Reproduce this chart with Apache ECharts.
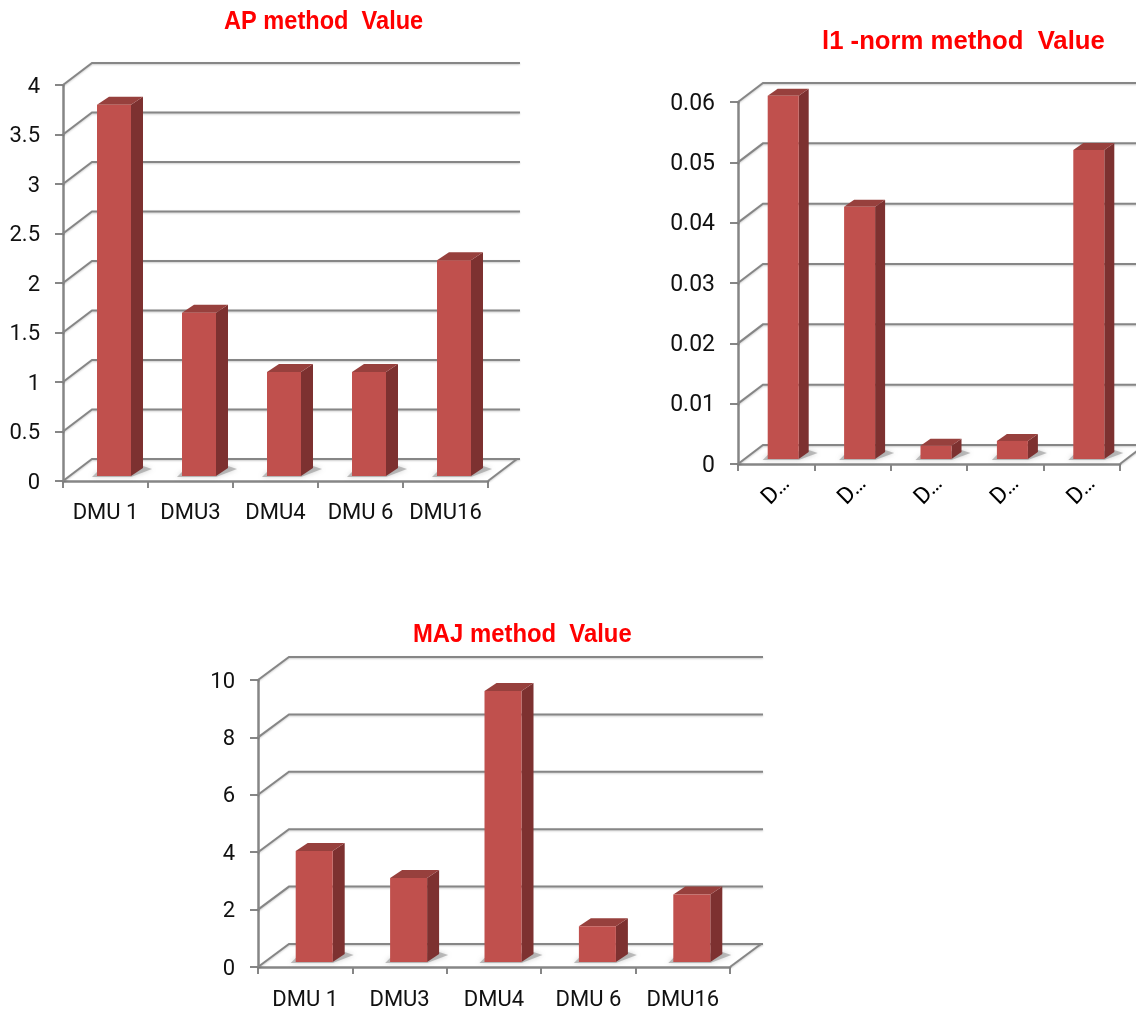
<!DOCTYPE html>
<html><head><meta charset="utf-8">
<style>html,body{margin:0;padding:0;background:#fff}#c{width:1136px;height:1011px}</style>
<script src="https://cdn.jsdelivr.net/npm/echarts@6/dist/echarts.min.js"></script>
</head><body><div id="c"></div>
<script>
const categories = ['DMU 1','DMU3','DMU4','DMU 6','DMU16'];
const apValues = [3.75,1.65,1.05,1.05,2.18];
const l1Values = [0.0602,0.0418,0.0022,0.003,0.0512];
const majValues = [3.87,2.93,9.44,1.25,2.35];
const apTicks = [0,0.5,1,1.5,2,2.5,3,3.5,4];
const l1Ticks = [0,0.01,0.02,0.03,0.04,0.05,0.06];
const majTicks = [0,2,4,6,8,10];
const titles = ['AP method  Value','l1 -norm method  Value','MAJ method  Value'];

const AXIS='#868686', FRONT='#C0504D', SIDE='#7D3130', TOP='#97403D';
const FONT='Roboto,"Liberation Sans",Arial,sans-serif', TFONT='"Liberation Sans",Arial,sans-serif';
const panels = [
 {left:63,top:85,width:425,height:396,max:4,interval:.5,values:apValues,ticks:apTicks,depthX:29,depthY:22,wallEnd:520,
  barW:34,barDx:12,barDy:8,offX:8.5,offY:5,fs:22,xMargin:21,title:[224,22],tScale:.89},
 {left:738,top:102,width:382,height:362,max:.06,interval:.01,values:l1Values,ticks:l1Ticks,depthX:25,depthY:19,wallEnd:1150,
  barW:31,barDx:10,barDy:7,offX:7,offY:5,fs:23,xMargin:27,title:[822,42],tScale:.97,rot:true},
 {left:258,top:680,width:472,height:287,max:10,interval:2,values:majValues,ticks:majTicks,depthX:31,depthY:23,wallEnd:763,
  barW:37,barDx:12,barDy:8,offX:9,offY:5,fs:22,xMargin:22,title:[413,635],tScale:.90}
];

function wallRender(p){
  return function(params,api){
    const pt=api.coord([0,api.value(1)]), cs=params.coordSys, x0=cs.x, y=pt[1];
    const isZero=api.value(1)===0, st={stroke:AXIS,lineWidth:2,fill:null,shadowBlur:2,shadowColor:'rgba(0,0,0,.2)',shadowOffsetY:1};
    const kids=[{type:'polyline',shape:{points:[[x0,y],[x0+p.depthX,y-p.depthY],[p.wallEnd,y-p.depthY]]},style:st}];
    if(isZero) kids.push({type:'line',shape:{x1:x0+cs.width,y1:y,x2:x0+cs.width+p.depthX,y2:y-p.depthY},style:st});
    return {type:'group',children:kids};
  };
}
function barRender(p){
  return function(params,api){
    const top=api.coord([api.value(0),api.value(1)]), base=api.coord([api.value(0),0]);
    const x0=top[0]-p.barW/2+p.offX, x1=x0+p.barW, yb=base[1]-p.offY, yt=top[1]-p.offY, dx=p.barDx, dy=p.barDy;
    return {type:'group',children:[
      {type:'polygon',shape:{points:[[x0-5,yb+1],[x1,yb+1],[x1+dx+9,yb-dy+1],[x1+dx,yb-dy-2],[x0,yb-4]]},
       style:{fill:'rgba(150,150,150,.6)',shadowBlur:5,shadowColor:'rgba(130,130,130,.6)'}},
      {type:'polygon',shape:{points:[[x1,yt],[x1+dx,yt-dy],[x1+dx,yb-dy],[x1,yb]]},style:{fill:SIDE}},
      {type:'polygon',shape:{points:[[x0,yt],[x0+dx,yt-dy],[x1+dx,yt-dy],[x1,yt]]},style:{fill:TOP}},
      {type:'rect',shape:{x:x0,y:yt,width:p.barW,height:yb-yt},style:{fill:FRONT}}
    ]};
  };
}
const option={animation:false,backgroundColor:'#fff',
 graphic:panels.map((p,i)=>({type:'text',x:p.title[0],y:p.title[1],scaleX:p.tScale,silent:true,
   style:{text:titles[i],fill:'#FF0000',font:'bold 26.5px '+TFONT,verticalAlign:'middle',align:'left'}})),
 grid:panels.map(p=>({left:p.left,top:p.top,width:p.width,height:p.height,containLabel:false})),
 xAxis:panels.map((p,i)=>({gridIndex:i,type:'category',data:categories,
   axisLine:{lineStyle:{color:AXIS,width:2.5}},axisTick:{show:true,alignWithLabel:false,length:7,lineStyle:{color:AXIS,width:2}},
   axisLabel:p.rot?{interval:0,rotate:45,align:'center',verticalAlign:'middle',margin:p.xMargin,color:'#000',fontFamily:FONT,fontSize:23,formatter:v=>v[0]+'…'}
     :{interval:0,margin:p.xMargin,color:'#111',fontFamily:FONT,fontSize:p.fs}})),
 yAxis:panels.map((p,i)=>({gridIndex:i,type:'value',min:0,max:p.max,interval:p.interval,splitLine:{show:false},
   axisLine:{show:true,lineStyle:{color:AXIS,width:2.5}},axisTick:{show:true,length:8,lineStyle:{color:AXIS,width:2}},
   axisLabel:{margin:23,color:'#111',fontFamily:FONT,fontSize:p.fs,verticalAlign:'top',lineHeight:4}})),
 series:panels.flatMap((p,i)=>[
  {type:'custom',xAxisIndex:i,yAxisIndex:i,z:1,clip:false,silent:true,renderItem:wallRender(p),data:p.ticks.map(t=>[0,t])},
  {type:'custom',xAxisIndex:i,yAxisIndex:i,z:3,clip:false,silent:true,renderItem:barRender(p),data:p.values.map((v,j)=>[j,v])}
 ])
};
echarts.init(document.getElementById('c'),null,{renderer:'canvas'}).setOption(option);
</script></body></html>
